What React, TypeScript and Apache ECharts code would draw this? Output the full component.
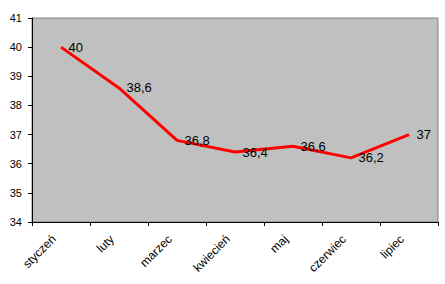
import React, { useEffect, useRef } from "react";
import * as echarts from "echarts";

const categories = ["styczeń", "luty", "marzec", "kwiecień", "maj", "czerwiec", "lipiec"];
const values = [40, 38.6, 36.8, 36.4, 36.6, 36.2, 37];
const yMin = 34;
const yMax = 41;
const yInterval = 1;

export default function App() {
  const ref = useRef<HTMLDivElement>(null);
  useEffect(() => {
    if (!ref.current) return;
    const chart = echarts.init(ref.current, undefined, { renderer: "svg" });
    chart.setOption({
      animation: false,
      backgroundColor: "#ffffff",
      textStyle: { fontFamily: "Arial, 'Liberation Sans', sans-serif" },
      grid: {
        left: 32,
        top: 18,
        right: 7,
        bottom: 62,
        show: true,
        backgroundColor: "#C0C0C0",
        borderColor: "#808080",
        borderWidth: 1,
      },
      xAxis: {
        type: "category",
        data: categories,
        boundaryGap: true,
        axisLine: { lineStyle: { color: "#000000", width: 1 } },
        axisTick: { show: true, length: 4, lineStyle: { color: "#000000" } },
        axisLabel: {
          rotate: 45,
          fontSize: 12,
          color: "#000000",
          margin: 8,
          padding: [0, 10, 0, 0],
          interval: 0,
          fontFamily: "Arial, 'Liberation Sans', sans-serif",
        },
        splitLine: { show: false },
      },
      yAxis: {
        type: "value",
        min: yMin,
        max: yMax,
        interval: yInterval,
        axisLine: { show: true, lineStyle: { color: "#000000", width: 1 } },
        axisTick: { show: true, length: 4, lineStyle: { color: "#000000" } },
        axisLabel: {
          fontSize: 11,
          color: "#000000",
          margin: 10,
          fontFamily: "Arial, 'Liberation Sans', sans-serif",
        },
        splitLine: { show: false },
      },
      series: [
        {
          type: "line",
          data: values,
          showSymbol: true,
          symbol: "circle",
          symbolSize: 1,
          itemStyle: { color: "rgba(0,0,0,0)" },
          lineStyle: { color: "#FF0000", width: 3 },
          label: {
            show: true,
            position: "right",
            distance: 7,
            fontSize: 13,
            color: "#000000",
            fontFamily: "Arial, 'Liberation Sans', sans-serif",
            formatter: (p: any) => String(p.value).replace(".", ","),
          },
        },
      ],
    });
    return () => chart.dispose();
  }, []);
  return <div ref={ref} style={{ width: 445, height: 284, position: "absolute", left: 0, top: 0 }} />;
}
